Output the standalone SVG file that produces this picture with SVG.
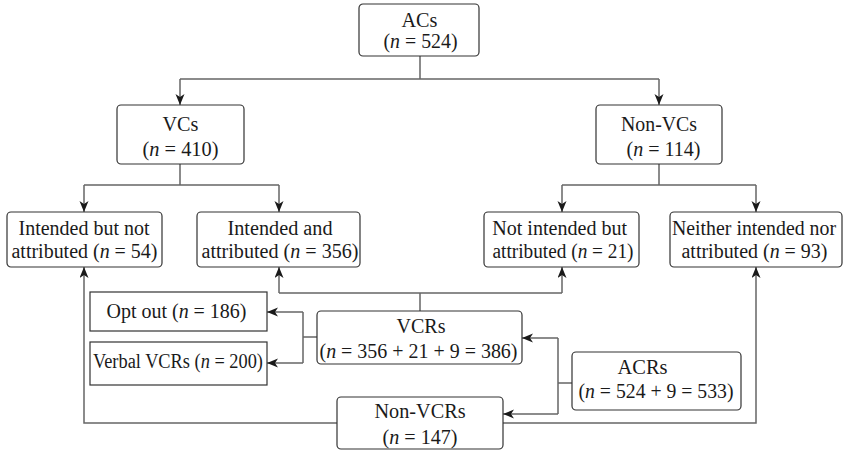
<svg xmlns="http://www.w3.org/2000/svg" width="843" height="452" viewBox="0 0 843 452">
<defs>
<style>
.box{fill:#fff;stroke:#333;stroke-width:1.2}
.t{font-family:"Liberation Serif","Times New Roman",serif;font-size:20px;fill:#1a1a1a;text-anchor:middle}
.i{font-style:italic}
.c{fill:none;stroke:#666;stroke-width:1.5}
.a{marker-end:url(#ah)}
</style>
<marker id="ah" markerUnits="userSpaceOnUse" markerWidth="12" markerHeight="10" refX="11" refY="4.5" orient="auto">
<path d="M0,0 L11,4.5 L0,9 L3,4.5 Z" fill="#1a1a1a"/>
</marker>
</defs>
<rect width="843" height="452" fill="#fff"/>
<g id="connectors">
<path class="c" d="M420,56 V79 M180,79 H659"/>
<path class="c a" d="M180,79 V105"/>
<path class="c a" d="M659,79 V105"/>
<path class="c" d="M180,164 V185 M84,185 H279"/>
<path class="c a" d="M84,185 V212"/>
<path class="c a" d="M279,185 V212"/>
<path class="c" d="M659,164 V185 M562,185 H756"/>
<path class="c a" d="M562,185 V212"/>
<path class="c a" d="M756,185 V212"/>
<path class="c" d="M420,311 V293 M279,293 H562"/>
<path class="c a" d="M279,293 V267"/>
<path class="c a" d="M562,293 V267"/>
<path class="c" d="M317,337 H303 M303,312 V363"/>
<path class="c a" d="M303,312 H267"/>
<path class="c a" d="M303,363 H267"/>
<path class="c" d="M572,383 H558 M558,338 V414"/>
<path class="c a" d="M558,338 H522"/>
<path class="c a" d="M558,414 H503"/>
<path class="c a" d="M337,423 H84 V267"/>
<path class="c a" d="M503,423 H756 V267"/>
</g>
<g id="acs">
<rect class="box" x="359" y="4" width="120" height="52" rx="4"/>
<text class="t" x="419.5" y="27" textLength="36" lengthAdjust="spacingAndGlyphs">ACs</text>
<text class="t" x="420.5" y="48" textLength="74" lengthAdjust="spacingAndGlyphs">(<tspan class="i">n</tspan> = 524)</text>
</g>
<g id="vcs">
<rect class="box" x="117" y="105" width="127" height="59" rx="4"/>
<text class="t" x="180.5" y="131" textLength="36" lengthAdjust="spacingAndGlyphs">VCs</text>
<text class="t" x="180.5" y="156" textLength="76" lengthAdjust="spacingAndGlyphs">(<tspan class="i">n</tspan> = 410)</text>
</g>
<g id="nonvcs">
<rect class="box" x="596" y="105" width="126" height="59" rx="4"/>
<text class="t" x="659" y="131" textLength="76" lengthAdjust="spacingAndGlyphs">Non-VCs</text>
<text class="t" x="663.5" y="156" textLength="74" lengthAdjust="spacingAndGlyphs">(<tspan class="i">n</tspan> = 114)</text>
</g>
<g id="intended-not-attributed">
<rect class="box" x="7" y="212" width="155" height="55" rx="4"/>
<text class="t" x="84" y="235" textLength="131" lengthAdjust="spacingAndGlyphs">Intended but not</text>
<text class="t" x="84.5" y="258" textLength="146" lengthAdjust="spacingAndGlyphs">attributed (<tspan class="i">n</tspan> = 54)</text>
</g>
<g id="intended-attributed">
<rect class="box" x="197" y="212" width="163" height="55" rx="4"/>
<text class="t" x="280" y="235" textLength="105" lengthAdjust="spacingAndGlyphs">Intended and</text>
<text class="t" x="280" y="258" textLength="157" lengthAdjust="spacingAndGlyphs">attributed (<tspan class="i">n</tspan> = 356)</text>
</g>
<g id="not-intended-attributed">
<rect class="box" x="484" y="212" width="155" height="55" rx="4"/>
<text class="t" x="559.7" y="235" textLength="135" lengthAdjust="spacingAndGlyphs">Not intended but</text>
<text class="t" x="563" y="258" textLength="141" lengthAdjust="spacingAndGlyphs">attributed (<tspan class="i">n</tspan> = 21)</text>
</g>
<g id="neither">
<rect class="box" x="670" y="212" width="172" height="55" rx="4"/>
<text class="t" x="754" y="235" textLength="164" lengthAdjust="spacingAndGlyphs">Neither intended nor</text>
<text class="t" x="754.5" y="258" textLength="146" lengthAdjust="spacingAndGlyphs">attributed (<tspan class="i">n</tspan> = 93)</text>
</g>
<g id="optout">
<rect class="box" x="90" y="292" width="177" height="39"/>
<text class="t" x="176.5" y="318" textLength="140" lengthAdjust="spacingAndGlyphs">Opt out (<tspan class="i">n</tspan> = 186)</text>
</g>
<g id="verbal">
<rect class="box" x="90" y="342" width="177" height="43"/>
<text class="t" x="178" y="368" textLength="170" lengthAdjust="spacingAndGlyphs">Verbal VCRs (<tspan class="i">n</tspan> = 200)</text>
</g>
<g id="vcrs">
<rect class="box" x="317" y="311" width="205" height="53" rx="4"/>
<text class="t" x="421" y="333" textLength="49" lengthAdjust="spacingAndGlyphs">VCRs</text>
<text class="t" x="418.5" y="358" textLength="198" lengthAdjust="spacingAndGlyphs">(<tspan class="i">n</tspan> = 356 + 21 + 9 = 386)</text>
</g>
<g id="acrs">
<rect class="box" x="572" y="352" width="169" height="58" rx="4"/>
<text class="t" x="642.5" y="374" textLength="50" lengthAdjust="spacingAndGlyphs">ACRs</text>
<text class="t" x="656" y="398" textLength="155" lengthAdjust="spacingAndGlyphs">(<tspan class="i">n</tspan> = 524 + 9 = 533)</text>
</g>
<g id="nonvcrs">
<rect class="box" x="337" y="397" width="166" height="52" rx="4"/>
<text class="t" x="420" y="418" textLength="91" lengthAdjust="spacingAndGlyphs">Non-VCRs</text>
<text class="t" x="420" y="444" textLength="75" lengthAdjust="spacingAndGlyphs">(<tspan class="i">n</tspan> = 147)</text>
</g>
</svg>
